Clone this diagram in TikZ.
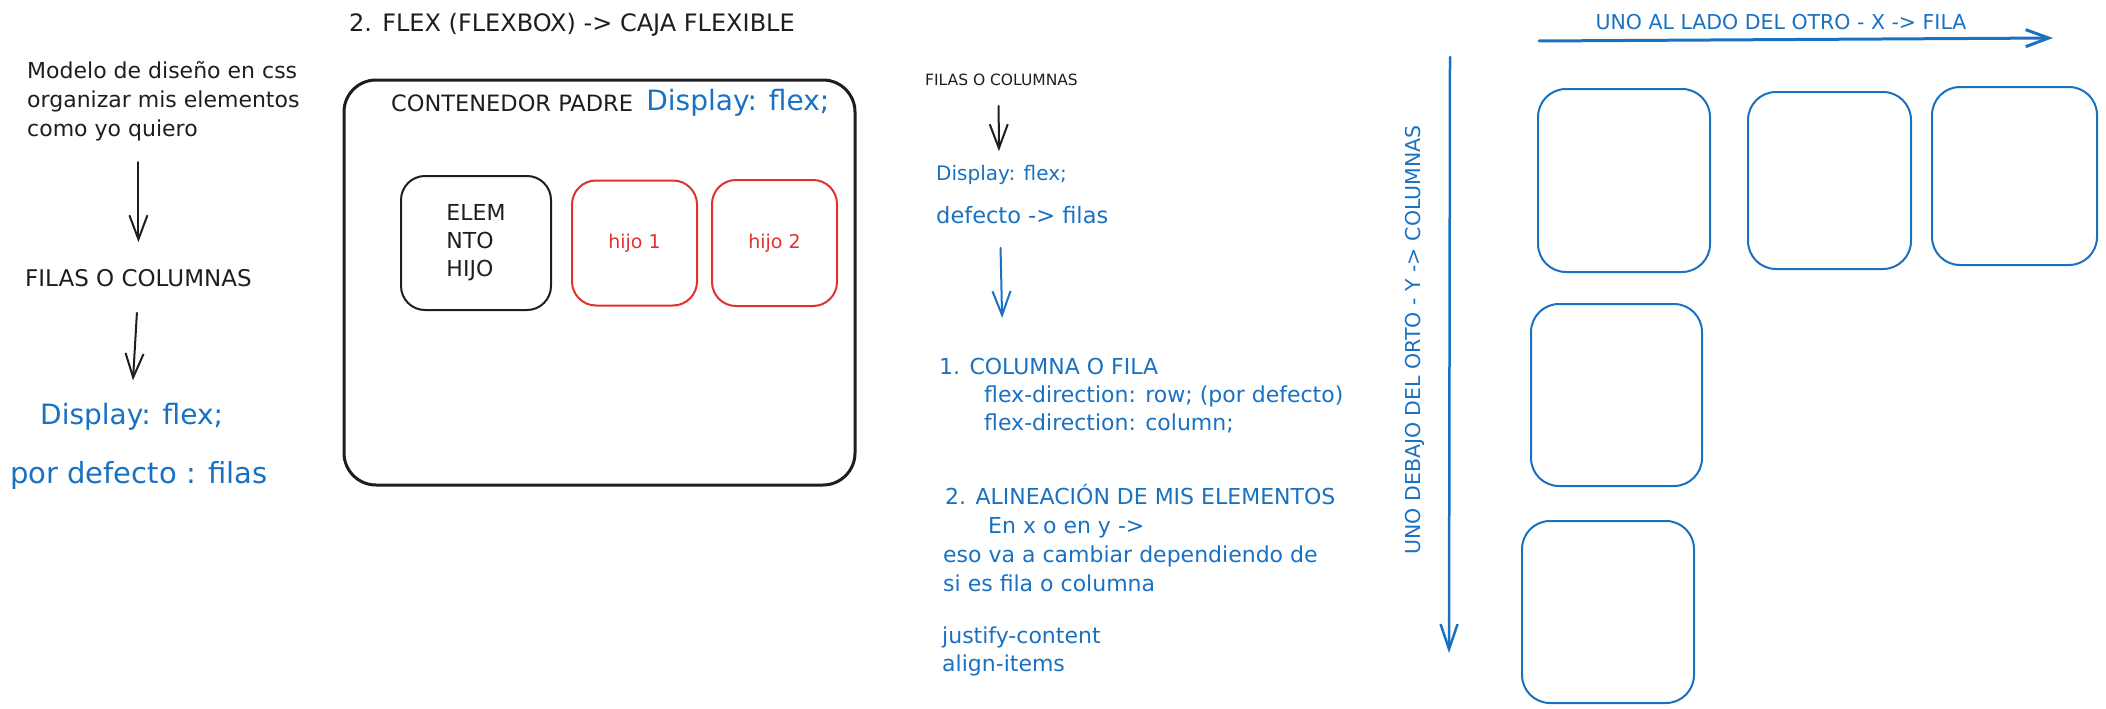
\documentclass[tikz,border=0pt]{standalone}
\usepackage{fontspec}
\setmainfont{DejaVu Sans}
\usetikzlibrary{arrows.meta,positioning}
\definecolor{ink}{HTML}{1E1E1E}
\definecolor{exblue}{HTML}{1971C2}
\definecolor{exred}{HTML}{E03131}
\def\fsz#1#2{\fontsize{#1}{#2}\selectfont}

\tikzset{
	txt/.style={inner sep=0pt, text=ink, align=left},
	bluetxt/.style={txt, text=exblue},
	card/.style={draw=ink, text=ink, line width=2pt, rounded corners=24pt, inner sep=0pt},
	redcard/.style={card, draw=exred, text=exred},
	bluecard/.style={card, draw=exblue, rounded corners=28pt},
	blackarrow/.style={draw=ink, line width=2pt, line cap=round, -{Straight Barb[length=24pt,width=18pt]}},
	bluearrow/.style={blackarrow, draw=exblue},
}

\begin{document}
\begin{tikzpicture}[x=1pt, y=-1pt]
			%%%%% START %%%%%
			\useasboundingbox (0,0) rectangle (2106,709);
			
			% left column
			\node[txt, anchor=north west, font=\fsz{22}{29}] (intro) at (27,61) {Modelo de diseño en css\\organizar mis elementos\\como yo quiero};
			\node[txt, anchor=west, font=\fsz{23}{29}] (filas) at (25,278) {FILAS O COLUMNAS};
			\node[bluetxt, anchor=west, font=\fsz{28}{34}] (disp) at (40,417) {Display: flex;};
			\node[bluetxt, anchor=west, font=\fsz{29}{35}] (pordef) at (10,475) {por defecto : filas};
			
			\draw[blackarrow, shorten <=21pt, shorten >=27pt] (intro.south -| filas.north) -- (filas.north);
			\draw[blackarrow, shorten <=26pt, shorten >=23pt] (filas.south) -- (disp.north);
			
			% flexbox container
			\node[txt, anchor=west, font=\fsz{24}{28}] (titulo) at (349,25) {2. FLEX (FLEXBOX) -> CAJA FLEXIBLE};
			\node[card, minimum width=511pt, minimum height=405pt, rounded corners=32pt, line width=3pt] (padre) at (599.5,282.5) {};
			\node[txt, anchor=west, font=\fsz{22.5}{28}] (contp) at (391,103) {CONTENEDOR PADRE};
			\node[bluetxt, font=\fsz{28}{32}, right=13pt of contp] (contd) {Display: flex;};
			
			\node[card, minimum width=150pt, minimum height=134pt, font=\fsz{22}{28}, align=left] (elem) at (476,243) {ELEM\\NTO\\HIJO};
			\node[redcard, minimum width=125pt, minimum height=125pt, font=\fsz{19}{24}, right=19pt of elem] (hijo1) {hijo 1};
			\node[redcard, minimum width=125pt, minimum height=126pt, font=\fsz{19}{24}, right=13pt of hijo1] (hijo2) {hijo 2};
			
			% middle notes
			\node[txt, anchor=west, font=\fsz{15.5}{18}] (filas2) at (925,80) {FILAS O COLUMNAS};
			\node[bluetxt, anchor=west, font=\fsz{20}{24}] (disp2) at (936,175) {Display: flex;};
			\node[bluetxt, anchor=west, font=\fsz{22.5}{26}] (defecto) at (936,215) {defecto -> filas};
			\node[bluetxt, anchor=north west, font=\fsz{22}{28}] (colfila) at (939,358) {1. COLUMNA O FILA\\\hspace*{45pt}flex-direction: row; (por defecto)\\\hspace*{45pt}flex-direction: column;};
			\node[bluetxt, anchor=north west, font=\fsz{22}{29}] (alin) at (943,484) {\hspace*{2pt}2. ALINEACIÓN DE MIS ELEMENTOS\\\hspace*{45pt}En x o en y ->\\eso va a cambiar dependiendo de\\si es fila o columna};
			\node[bluetxt, anchor=north west, font=\fsz{22}{28}] (props) at (942,627) {justify-content\\align-items};
			
			\draw[blackarrow, shorten <=20pt, shorten >=14pt] ([xshift=-3pt]filas2.south) -- ([xshift=63pt]disp2.north west);
			\draw[bluearrow, shorten <=24pt, shorten >=40pt] ([xshift=64pt]defecto.south west) -- ([xshift=64pt]colfila.north west);
			
			% axes
			\coordinate (rowStart) at (1539,41);
			\coordinate (rowEnd) at (2053,38);
			\coordinate (colStart) at (1450,57);
			\coordinate (colEnd) at (1449,653);
			\node[bluetxt, font=\fsz{20.5}{24}] (rowlbl) at (1781,22) {UNO AL LADO DEL OTRO - X -> FILA};
			\node[bluetxt, rotate=90, font=\fsz{20.5}{24}] (collbl) at (1415,340) {UNO DEBAJO DEL ORTO - Y -> COLUMNAS};
			\draw[bluearrow, line width=3pt, -{Straight Barb[length=23pt,width=17pt]}] (rowStart) -- (rowEnd);
			\draw[bluearrow, line width=2.5pt, -{Straight Barb[length=25pt,width=17pt]}] (colStart) -- (colEnd);
			
			% flex items
			\node[bluecard, minimum width=172pt, minimum height=183pt] (itemA) at (1624,180.5) {};
			\node[bluecard, minimum width=163pt, minimum height=177pt, right=36pt of itemA] (itemB) {};
			\node[bluecard, minimum width=165pt, minimum height=178pt] (itemC) at (2014.5,176) {};
			\node[bluecard, minimum width=171pt, minimum height=182pt, below=30pt of itemA, xshift=-7.5pt] (itemD) {};
			\node[bluecard, minimum width=172pt, minimum height=182pt, below=33pt of itemD, xshift=-8.5pt] (itemE) {};
			
			%%%%% END %%%%%
\end{tikzpicture}
\end{document}
